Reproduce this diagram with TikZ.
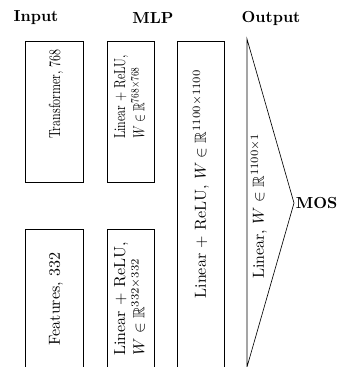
\documentclass[tikz,border=0pt]{standalone}
\usepackage{amssymb}
\usepackage{graphicx}
\begin{document}
\begin{tikzpicture}[x=0.625pt,y=-0.625pt,
  title/.style={font=\bfseries, inner sep=0pt},
  lbl/.style={rotate=90, inner sep=0pt},
  blk/.style={draw, line width=0.4pt}]
\useasboundingbox (0,0) rectangle (338,367);
\clip (0,0) rectangle (338,367);
% titles
\node[title] (tin) at (36,18) {Input};
\node[title] (tmlp) at (153,18) {MLP};
\node[title] (tout) at (271,18) {Output};
% input boxes
\draw[blk] (25,41) rectangle (83,182);
\draw[blk] (25,229) rectangle (83,372);
\node[lbl] (trf) at (56,94) {\scalebox{0.75}[1]{Transformer, 768}};
\node[lbl] (feat) at (56,299) {Features, 332};
% MLP boxes
\draw[blk] (107,41) rectangle (154,182);
\draw[blk] (107,229) rectangle (154,372);
\draw[blk] (177,41) rectangle (224,372);
\node[lbl] (m1) at (131,97) {\scalebox{0.74}[1]{\begin{tabular}{@{}l@{}}Linear + ReLU,\\ $W\in\mathbb{R}^{768\times768}$\end{tabular}}};
\node[lbl] (m2) at (131,299) {\begin{tabular}{@{}l@{}}Linear + ReLU,\\ $W\in\mathbb{R}^{332\times332}$\end{tabular}};
\node[lbl] (m3) at (201,184) {Linear + ReLU, $W\in\mathbb{R}^{1100\times1100}$};
% output triangle
\draw[blk] (247,39) -- (294,203) -- (247,367) -- cycle;
\coordinate (apex) at (294,203);
\node[lbl] (lin) at (259,206) {Linear, $W\in\mathbb{R}^{1100\times1}$};
\node[font=\bfseries, anchor=west, inner sep=1pt] (mos) at (apex) {MOS};
\end{tikzpicture}
\end{document}
